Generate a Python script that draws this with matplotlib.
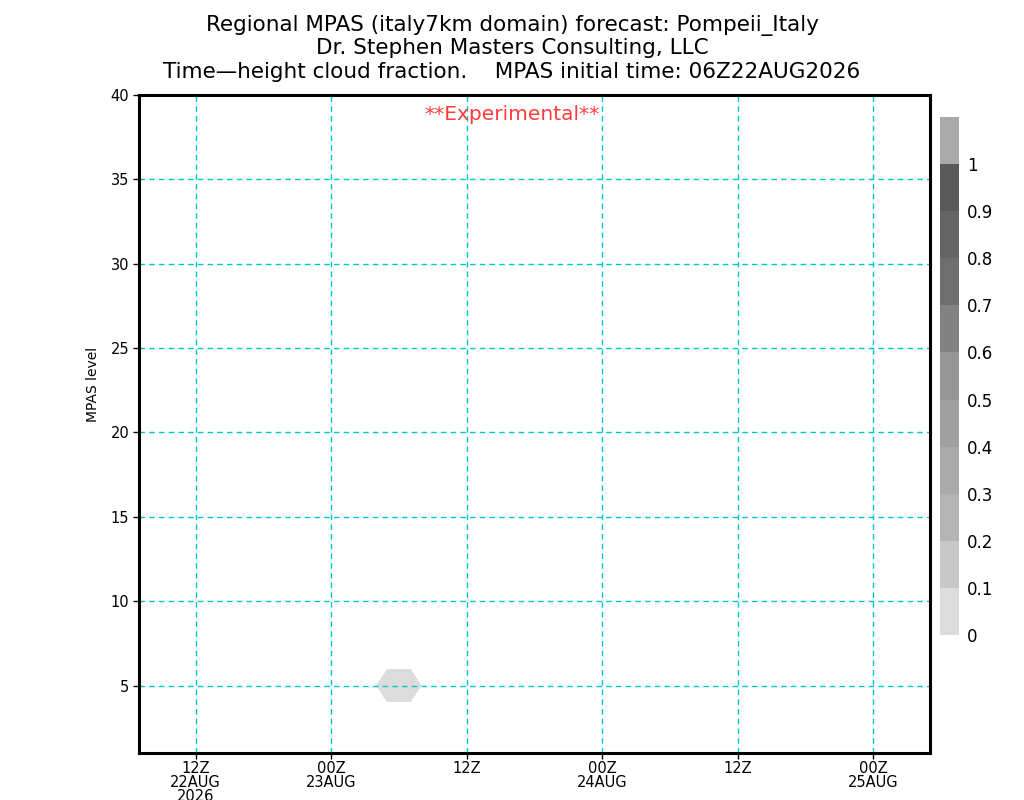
import numpy as np
import matplotlib
matplotlib.use('Agg')
import matplotlib.pyplot as plt
from matplotlib.colors import ListedColormap, BoundaryNorm
import matplotlib.cm as cm

# forecast hours (counted from 00Z 22AUG2026) and model levels
hours = np.arange(7, 78)
levels = np.arange(1, 41)

# the only cloudy grid points: (hour, level, cloud fraction)
cloud_hour = [29, 30, 31]
cloud_level = [5, 5, 5]
cloud_frac = [0.08, 0.08, 0.08]

# shading levels and colours
clevs = [0, 0.1, 0.2, 0.3, 0.4, 0.5, 0.6, 0.7, 0.8, 0.9, 1.0]
ccols = ['#dcdcdc', '#c8c8c8', '#b4b4b4', '#aaaaaa', '#a0a0a0',
         '#969696', '#828282', '#6e6e6e', '#646464', '#5a5a5a']
over_col = '#aaaaaa'

xtick_hours = [12, 24, 36, 48, 60, 72]
xtick_labels = ['12Z\n22AUG\n2026', '00Z\n23AUG', '12Z',
                '00Z\n24AUG', '12Z', '00Z\n25AUG']
ytick_vals = [5, 10, 15, 20, 25, 30, 35, 40]

grid = np.zeros((len(levels), len(hours)))
for h, k, v in zip(cloud_hour, cloud_level, cloud_frac):
    grid[k - levels[0], h - hours[0]] = v

cmap = ListedColormap(ccols)
cmap.set_over(over_col)
norm = BoundaryNorm(clevs, cmap.N)

fig = plt.figure(figsize=(10.24, 8), dpi=100, facecolor='white')
ax = fig.add_axes([139 / 1024, 1 - 753 / 800, 791 / 1024, 658 / 800])

# tiny lower threshold so that clear sky stays white
shade_levs = [0.004] + clevs[1:]
ax.contourf(hours, levels, grid, levels=shade_levs, colors=ccols,
            extend='max')

ax.set_xlim(7, 77)
ax.set_ylim(1, 40)
ax.set_xticks(xtick_hours)
ax.set_xticklabels(xtick_labels, fontsize=10.5, linespacing=0.95)
ax.set_yticks(ytick_vals)
ax.set_yticklabels([str(v) for v in ytick_vals], fontsize=10.5)
ax.tick_params(axis='y', direction='out', length=4, width=1, pad=3)
ax.tick_params(axis='x', direction='out', length=4, width=1, pad=1.5)
ax.grid(True, color='#00c8c8', linestyle=(0, (4, 3)), linewidth=1)
for sp in ax.spines.values():
    sp.set_linewidth(2.2)
ax.set_ylabel('MPAS level', fontsize=10)
ax.yaxis.set_label_coords(-0.049, 0.56)

fig.text(0.5, 1 - 115 / 800, '**Experimental**', color='#ff3c3c',
         fontsize=14.5, ha='center', va='center')

titles = ['Regional MPAS (italy7km domain) forecast: Pompeii_Italy',
          'Dr. Stephen Masters Consulting, LLC',
          'Time\u2014height cloud fraction.    MPAS initial time: 06Z22AUG2026']
for i, t in enumerate(titles):
    fig.text(0.5, 1 - (25 + 23.5 * i) / 800, t, ha='center', va='center',
             fontsize=15.5)

# colour bar
cax = fig.add_axes([940 / 1024, 1 - 635 / 800, 19 / 1024, 518 / 800])
sm = cm.ScalarMappable(norm=norm, cmap=cmap)
cb = fig.colorbar(sm, cax=cax, extend='max', extendrect=True,
                  extendfrac=0.1, ticks=clevs)
cb.outline.set_visible(False)
cb.ax.set_yticklabels(['%g' % v for v in clevs], fontsize=12)
cb.ax.tick_params(length=0, pad=6)

fig.savefig('out.png', dpi=100, facecolor='white')
